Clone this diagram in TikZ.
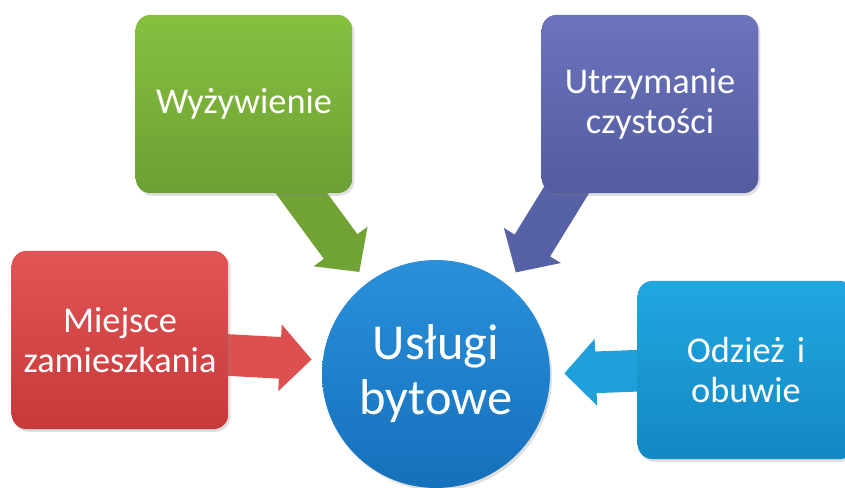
\documentclass[tikz,border=0pt]{standalone}
\usepackage{fontspec}
\setmainfont{Carlito}
\usetikzlibrary{arrows.meta,shadows,backgrounds}

\definecolor{zielony}{HTML}{86C040}
\definecolor{zielonyd}{HTML}{6E9F33}
\definecolor{fiolet}{HTML}{6C74BC}
\definecolor{fioletd}{HTML}{525C9F}
\definecolor{czerw}{HTML}{E25454}
\definecolor{czerwd}{HTML}{C63A3C}
\definecolor{niebo}{HTML}{22A6E0}
\definecolor{niebod}{HTML}{1288C4}
\definecolor{kolo}{HTML}{2A90DA}
\definecolor{kolod}{HTML}{1670BC}

\begin{document}
\begin{tikzpicture}[x=0.03cm,y=-0.03cm,
    box/.style={rectangle,rounded corners=0.45cm,minimum width=6.5cm,minimum height=5.35cm,text width=6.2cm,align=center,text=white,font=\fontsize{31}{34}\selectfont,drop shadow={opacity=0.25,shadow xshift=0.06cm,shadow yshift=-0.08cm}},
    arr/.style={line width=1.25cm,-{Triangle[width=1.95cm,length=0.95cm]}}]
            \useasboundingbox (0,0) rectangle (845,488);
            \clip (0,0) rectangle (845,488);

            \node[circle, minimum size=6.84cm, top color=kolo, bottom color=kolod, text=white, align=center, font=\fontsize{43}{47}\selectfont, drop shadow={opacity=0.25,shadow xshift=0.06cm,shadow yshift=-0.08cm}] (1) at (436,374) {Usługi\\bytowe};
            \node[box, top color=zielony, bottom color=zielonyd] (2) at (244,104) {Wyżywienie};
            \node[box, top color=fiolet, bottom color=fioletd] (3) at (650,104) {Utrzymanie\\czystości};
            \node[box, top color=czerw, bottom color=czerwd] (4) at (120,340) {Miejsce\\zamieszkania};
            \node[box, top color=niebo, bottom color=niebod] (5) at (746,370) {Odzież i\\obuwie};

            \begin{pgfonlayer}{background}
            \draw[arr, zielonyd!90!zielony, shorten >=0.4cm] ([xshift=0.99cm,yshift=-1.68cm]2.center) -- (1.127);
            \draw[arr, fioletd!80!fiolet, shorten >=0.45cm] ([xshift=-1.95cm,yshift=-1.68cm]3.center) -- (1.51);
            \draw[arr, czerw!85!czerwd, shorten >=0.33cm] ([xshift=-0.6cm,yshift=-0.42cm]4.east) -- (1.173);
            \draw[arr, niebo!80!niebod, shorten >=0.42cm] ([xshift=0.6cm]5.west) -- (1.east);
            \end{pgfonlayer}
        \end{tikzpicture}
\end{document}
